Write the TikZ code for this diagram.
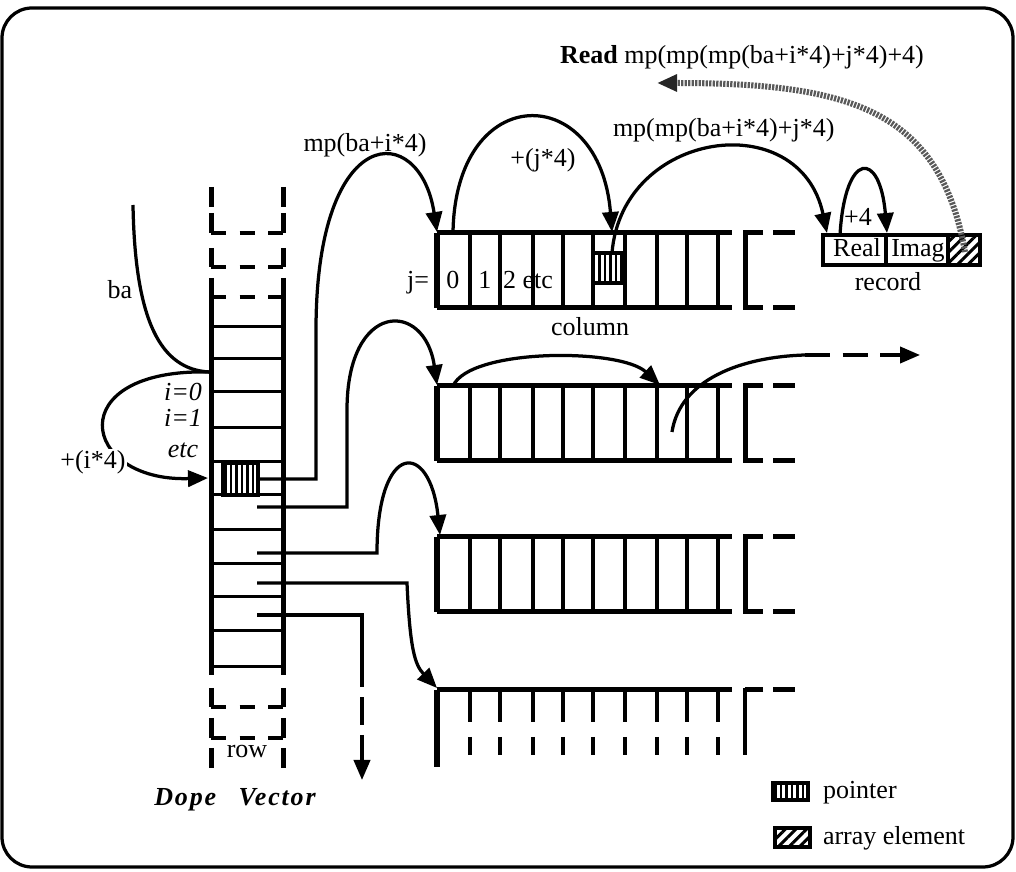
\documentclass[tikz,border=0pt]{standalone}
\usepackage{fontspec}
\setmainfont{Liberation Serif}
\newfontfamily\dopefont[LetterSpace=7]{Liberation Serif}
\usetikzlibrary{arrows.meta,patterns.meta}

\begin{document}
\begin{tikzpicture}[
    x=0.4pt, y=-0.4pt,
    every node/.style={font=\fontsize{10.4}{12}\selectfont, inner sep=1pt},
    outerframe/.style={line width=1.3pt, rounded corners=12pt},
    rail/.style={line width=2pt},
    rung/.style={line width=1.2pt},
    cellwall/.style={line width=1.5pt},
    gapline/.style={line width=1.8pt, dash pattern=on 6pt off 5.4pt},
    link/.style={line width=1.3pt, -{Triangle[length=8pt,width=6.5pt]}},
    plainlink/.style={line width=1.3pt},
    dashlink/.style={line width=1.3pt, dash pattern=on 10pt off 5pt, -{Triangle[length=8pt,width=6.5pt]}},
    readlink/.style={line width=2.4pt, black!65, dash pattern=on 0.9pt off 0.5pt,
        -{Triangle[length=8pt,width=6.5pt,color=black!85,fill=black!85]}},
    ptrbox/.style={draw, line width=1.4pt, pattern={Lines[angle=90,distance=2.2pt,line width=1pt]}},
    elembox/.style={draw, line width=1.4pt, pattern={Lines[angle=45,distance=3pt,line width=1.2pt]}}
]

\useasboundingbox (0,0) rectangle (1016,872);

% =========================================================
% Frame
% =========================================================

\draw[outerframe] (2,8) rectangle (1013,867);

% =========================================================
% Dope vector
% =========================================================

\draw[rail] (211,187) -- (211,207) (283,187) -- (283,207);
\draw[rail] (211,213) -- (211,233) (283,213) -- (283,233);
\draw[rail] (211,248) -- (211,267) (283,248) -- (283,267);
\draw[rail] (211,278) -- (211,675) (283,278) -- (283,675);
\draw[rail] (211,688) -- (211,707) (283,688) -- (283,707);
\draw[rail] (211,718) -- (211,738) (283,718) -- (283,738);
\draw[rail] (211,748) -- (211,768) (283,748) -- (283,768);

\draw[gapline] (211,233) -- (283,233);
\draw[gapline] (211,267) -- (283,267);
\draw[gapline, line width=1.4pt] (211,297) -- (283,297);
\draw[gapline] (211,707) -- (283,707);
\draw[gapline] (211,738) -- (283,738);

\draw[rung] (211,327) -- (283,327) (211,359) -- (283,359);
\draw[rung] (211,392) -- (283,392) (211,428) -- (283,428);
\draw[rung] (211,462) -- (283,462) (211,495) -- (283,495);
\draw[rung] (211,530) -- (283,530) (211,564) -- (283,564);
\draw[rung] (211,597) -- (283,597) (211,631) -- (283,631);
\draw[rung] (211,667) -- (283,667);

\draw[ptrbox] (223,463) rectangle (258,495);

\node (iZero) at (183,392) {\textit{i=0}};
\node (iOne)  at (183,418) {\textit{i=1}};
\node (iEtc)  at (183,450) {\textit{etc}};
\node (rowLbl) at (247,752) {row};
\node (dopeLbl) at (235,800) {\dopefont\bfseries\itshape Dope\hspace{9pt}Vector};

% =========================================================
% Row arrays
% =========================================================

% column 1
\draw[rail, line width=2.4pt] (437,233) -- (437,308);
\draw[rail] (437,233) -- (732,233) (437,308) -- (732,308);
\draw[cellwall] (470,233) -- (470,308) (500,233) -- (500,308) (533,233) -- (533,308)
    (563,233) -- (563,308) (593,233) -- (593,308) (625,233) -- (625,308)
    (657,233) -- (657,308) (687,233) -- (687,308) (718,233) -- (718,308);
\draw[rail] (763,233) -| (745,308) -- (763,308);
\draw[rail] (773,233) -- (795,233) (773,308) -- (795,308);
\draw[ptrbox] (593,253) rectangle (624,283);

\node[anchor=base] (jEq)  at (418,289) {j=};
\node[anchor=base] (jZero) at (453,289) {0};
\node[anchor=base] (jOne)  at (485,289) {1};
\node[anchor=base] (jEtc)  at (528,289) {2 etc};
\node (colLbl) at (590,327) {column};

% column 2
\draw[rail, line width=2.4pt] (437,386) -- (437,461);
\draw[rail] (437,386) -- (732,386) (437,461) -- (732,461);
\draw[cellwall] (470,386) -- (470,461) (500,386) -- (500,461) (533,386) -- (533,461)
    (563,386) -- (563,461) (593,386) -- (593,461) (625,386) -- (625,461)
    (657,386) -- (657,461) (687,386) -- (687,461) (718,386) -- (718,461);
\draw[rail] (763,386) -| (745,461) -- (763,461);
\draw[rail] (773,386) -- (795,386) (773,461) -- (795,461);

% column 3
\draw[rail, line width=2.4pt] (437,537) -- (437,612);
\draw[rail] (437,537) -- (732,537) (437,612) -- (732,612);
\draw[cellwall] (470,537) -- (470,612) (500,537) -- (500,612) (533,537) -- (533,612)
    (563,537) -- (563,612) (593,537) -- (593,612) (625,537) -- (625,612)
    (657,537) -- (657,612) (687,537) -- (687,612) (718,537) -- (718,612);
\draw[rail] (763,537) -| (745,612) -- (763,612);
\draw[rail] (773,537) -- (795,537) (773,612) -- (795,612);

% column 4, open at the bottom
\draw[rail, line width=2.4pt] (437,690) -- (437,767);
\draw[rail] (437,690) -- (732,690);
\draw[cellwall] (470,690) -- (470,722) (500,690) -- (500,722) (533,690) -- (533,722)
    (563,690) -- (563,722) (593,690) -- (593,722) (625,690) -- (625,722)
    (657,690) -- (657,722) (687,690) -- (687,722) (718,690) -- (718,722);
\draw[cellwall] (470,737) -- (470,755) (500,737) -- (500,755) (533,737) -- (533,755)
    (563,737) -- (563,755) (593,737) -- (593,755) (625,737) -- (625,755)
    (657,737) -- (657,755) (687,737) -- (687,755) (718,737) -- (718,755);
\draw[cellwall] (763,690) -| (745,755);
\draw[rail] (745,690) -- (763,690) (773,690) -- (795,690);

% =========================================================
% Record
% =========================================================

\draw[line width=1.4pt] (823,235) rectangle (948,265) (886,235) -- (886,265);
\draw[elembox] (948,235) rectangle (980,265);
\node[anchor=base] (realLbl) at (857,257) {Real};
\node[anchor=base] (imagLbl) at (918,257) {Imag};
\node (recLbl) at (888,282) {record};

% =========================================================
% Connectors
% =========================================================

\coordinate (baTop)  at (133,205);
\coordinate (baHit)  at (210,372);
\coordinate (rowI)   at (208,478);
\coordinate (ptrOut) at (258,479);
\coordinate (rowOut1) at (257,507);
\coordinate (rowOut2) at (257,553);
\coordinate (rowOut3) at (257,583);
\coordinate (rowOut4) at (257,615);
\coordinate (colTop1) at (437,232);
\coordinate (colTop2) at (437,385);
\coordinate (colTop3) at (440,535);
\coordinate (colTop4) at (437,688);
\coordinate (rowEnd) at (362,780);
\coordinate (jStart) at (453,233);
\coordinate (jHit)   at (612,232);
\coordinate (elemPtr) at (612,253);
\coordinate (recTop) at (827,233);
\coordinate (realTop) at (840,235);
\coordinate (imagTop) at (887,233);
\coordinate (elemOut) at (965,252);
\coordinate (readEnd) at (657,83);
\coordinate (innerStart) at (453,386);
\coordinate (innerHit) at (660,385);
\coordinate (nextStart) at (672,432);
\coordinate (nextEnd) at (920,355);

\draw[plainlink] (baTop) .. controls (135,320) and (160,370) .. (baHit);
\draw[link] (baHit) .. controls (60,368) and (80,482) .. (rowI);

\draw[link] (ptrOut) -- (316,479) -- (316,330) .. controls (316,120) and (420,120) .. (colTop1);
\draw[link] (rowOut1) -- (347,507) -- (347,410) .. controls (347,300) and (425,300) .. (colTop2);
\draw[link] (rowOut2) -- (377,553) .. controls (377,440) and (430,440) .. (colTop3);
\draw[link] (rowOut3) -- (407,583) .. controls (410,650) and (415,665) .. (colTop4);
\draw[plainlink] (rowOut4) -- (362,615) -- (362,660);
\draw[dashlink, dash pattern=on 11pt off 4pt] (362,660) -- (rowEnd);

\draw[link] (jStart) .. controls (455,80) and (600,80) .. (jHit);
\draw[link] (elemPtr) .. controls (622,130) and (800,105) .. (recTop);
\draw[link] (realTop) .. controls (845,150) and (880,150) .. (imagTop);
\draw[readlink] (elemOut) .. controls (940,110) and (850,83) .. (readEnd);

\draw[link] (innerStart) .. controls (470,348) and (620,348) .. (innerHit);
\draw[plainlink] (nextStart) .. controls (680,380) and (740,357) .. (805,355);
\draw[dashlink] (805,355) -- (nextEnd);

\node (baLbl)   at (120,290) {ba};
\node[fill=white, inner sep=0.5pt] (iStep) at (93,462) {+(i*4)};
\node (rowLoad) at (365,145) {mp(ba+i*4)};
\node (jStep)   at (543,160) {+(j*4)};
\node[anchor=west] (elemLoad) at (610,130) {mp(mp(ba+i*4)+j*4)};
\node (fieldStep) at (858,217) {+4};
\node[anchor=west] (readLbl) at (557,57) {\textbf{Read} mp(mp(mp(ba+i*4)+j*4)+4)};

% =========================================================
% Legend
% =========================================================

\draw[ptrbox] (773,783) rectangle (808,800);
\node[anchor=west] (ptrKey) at (820,793) {pointer};
\draw[elembox] (775,828) rectangle (810,847);
\node[anchor=west] (elemKey) at (820,838) {array element};

\end{tikzpicture}
\end{document}
